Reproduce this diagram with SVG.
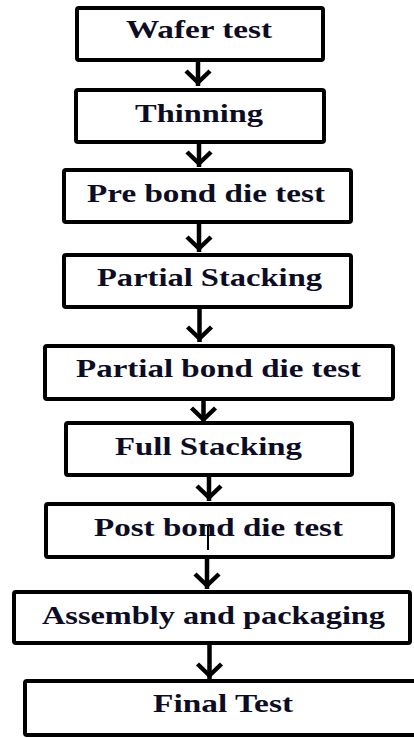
<svg xmlns="http://www.w3.org/2000/svg" width="414" height="738" viewBox="0 0 414 738">
<defs>
<style>
.box{fill:#fff;stroke:#000;stroke-width:4;}
.lbl{font-family:"Liberation Serif","Times New Roman",serif;font-weight:bold;font-size:26px;fill:#0c0c24;}
.conn{stroke:#000;stroke-width:4.5;fill:none;}
</style>
<marker id="chev" markerUnits="userSpaceOnUse" viewBox="-20 -16 24 32" markerWidth="24" markerHeight="32" refX="0" refY="0" orient="auto">
<path d="M-15,-12 L-3.5,0 L-15,12" fill="none" stroke="#000" stroke-width="4.5"/>
</marker>
</defs>
<rect width="414" height="738" fill="#fff"/>
<g id="connectors">
<line class="conn" x1="198" y1="62" x2="198" y2="86" marker-end="url(#chev)"/>
<line class="conn" x1="199" y1="144" x2="199" y2="167" marker-end="url(#chev)"/>
<line class="conn" x1="199" y1="224" x2="199" y2="252" marker-end="url(#chev)"/>
<line class="conn" x1="199.5" y1="309" x2="199.5" y2="342" marker-end="url(#chev)"/>
<line class="conn" x1="203.5" y1="401" x2="203.5" y2="423" marker-end="url(#chev)"/>
<line class="conn" x1="209" y1="477" x2="209" y2="501" marker-end="url(#chev)"/>
<line class="conn" x1="207" y1="559" x2="207" y2="589" marker-end="url(#chev)"/>
<line class="conn" x1="209.5" y1="645" x2="209.5" y2="679" marker-end="url(#chev)"/>
</g>
<g id="n1"><rect class="box" x="77" y="8" width="246" height="52" rx="2"/><text class="lbl" x="126" y="38" textLength="146" lengthAdjust="spacingAndGlyphs">Wafer test</text></g>
<g id="n2"><rect class="box" x="76" y="90" width="248" height="52" rx="2"/><text class="lbl" x="135" y="122" textLength="128" lengthAdjust="spacingAndGlyphs">Thinning</text></g>
<g id="n3"><rect class="box" x="64" y="170" width="287" height="52" rx="2"/><text class="lbl" x="87" y="202" textLength="238" lengthAdjust="spacingAndGlyphs">Pre bond die test</text></g>
<g id="n4"><rect class="box" x="64" y="255" width="287" height="52" rx="2"/><text class="lbl" x="97" y="286" textLength="225" lengthAdjust="spacingAndGlyphs">Partial Stacking</text></g>
<g id="n5"><rect class="box" x="45" y="346" width="348" height="53" rx="2"/><text class="lbl" x="76" y="377" textLength="285" lengthAdjust="spacingAndGlyphs">Partial bond die test</text></g>
<g id="n6"><rect class="box" x="66" y="423" width="286" height="52" rx="2"/><text class="lbl" x="115" y="455" textLength="187" lengthAdjust="spacingAndGlyphs">Full Stacking</text></g>
<g id="n7"><rect class="box" x="46" y="504" width="347" height="53" rx="2"/><text class="lbl" x="94" y="536" textLength="249" lengthAdjust="spacingAndGlyphs">Post bond die test</text><line x1="208" y1="526" x2="208" y2="550" stroke="#000" stroke-width="2"/></g>
<g id="n8"><rect class="box" x="14" y="592" width="396" height="51" rx="2"/><text class="lbl" x="42" y="624" textLength="343" lengthAdjust="spacingAndGlyphs">Assembly and packaging</text></g>
<g id="n9"><rect class="box" x="25" y="681" width="395" height="54" rx="2"/><text class="lbl" x="153" y="712" textLength="140" lengthAdjust="spacingAndGlyphs">Final Test</text></g>
</svg>
